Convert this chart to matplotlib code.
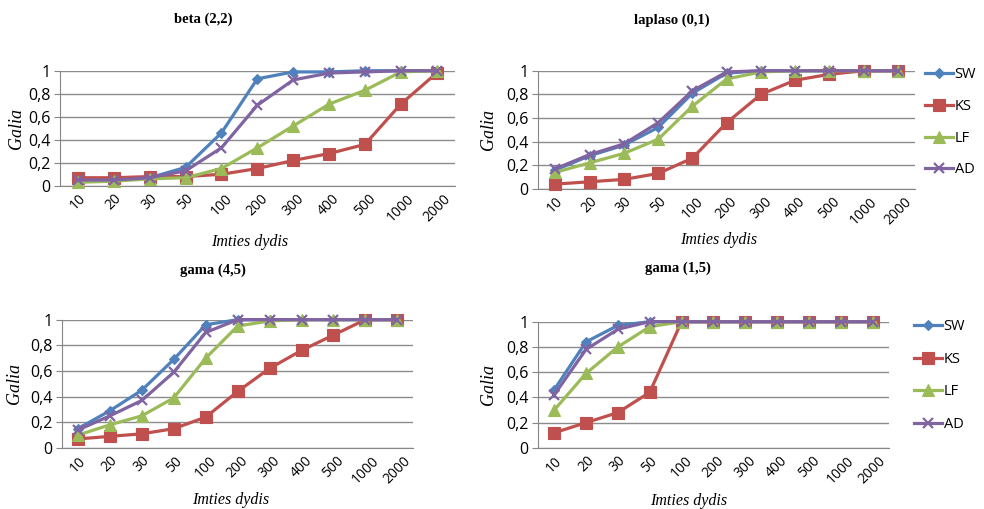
import numpy as np
import matplotlib.pyplot as plt

# Imties dydžiai (kategorinė x ašis)
imtys = ['10', '20', '30', '50', '100', '200', '300', '400', '500', '1000', '2000']

# beta (2,2)
beta_sw = [0.05, 0.05, 0.07, 0.16, 0.46, 0.93, 0.99, 0.99, 1.00, 1.00, 1.00]
beta_ks = [0.07, 0.07, 0.08, 0.08, 0.10, 0.15, 0.22, 0.28, 0.36, 0.71, 0.98]
beta_lf = [0.03, 0.04, 0.06, 0.07, 0.15, 0.33, 0.52, 0.71, 0.83, 0.99, 1.00]
beta_ad = [0.05, 0.05, 0.07, 0.13, 0.33, 0.70, 0.92, 0.98, 0.99, 1.00, 1.00]

# laplaso (0,1)
lap_sw = [0.16, 0.28, 0.37, 0.52, 0.81, 0.98, 1.00, 1.00, 1.00, 1.00, 1.00]
lap_ks = [0.04, 0.06, 0.08, 0.13, 0.26, 0.56, 0.80, 0.92, 0.97, 1.00, 1.00]
lap_lf = [0.14, 0.22, 0.30, 0.42, 0.70, 0.93, 0.99, 1.00, 1.00, 1.00, 1.00]
lap_ad = [0.17, 0.29, 0.38, 0.56, 0.83, 0.99, 1.00, 1.00, 1.00, 1.00, 1.00]

# gama (4,5)
g45_sw = [0.15, 0.29, 0.45, 0.69, 0.96, 1.00, 1.00, 1.00, 1.00, 1.00, 1.00]
g45_ks = [0.07, 0.09, 0.11, 0.15, 0.24, 0.44, 0.62, 0.76, 0.88, 1.00, 1.00]
g45_lf = [0.10, 0.18, 0.25, 0.39, 0.70, 0.95, 0.99, 1.00, 1.00, 1.00, 1.00]
g45_ad = [0.14, 0.25, 0.37, 0.59, 0.90, 1.00, 1.00, 1.00, 1.00, 1.00, 1.00]

# gama (1,5)
g15_sw = [0.46, 0.84, 0.97, 1.00, 1.00, 1.00, 1.00, 1.00, 1.00, 1.00, 1.00]
g15_ks = [0.12, 0.20, 0.28, 0.44, 1.00, 1.00, 1.00, 1.00, 1.00, 1.00, 1.00]
g15_lf = [0.30, 0.59, 0.80, 0.96, 1.00, 1.00, 1.00, 1.00, 1.00, 1.00, 1.00]
g15_ad = [0.42, 0.78, 0.94, 1.00, 1.00, 1.00, 1.00, 1.00, 1.00, 1.00, 1.00]

kriterijai = ['SW', 'KS', 'LF', 'AD']
spalvos = ['#4F81BD', '#C0504D', '#9BBB59', '#8064A2']
zymekliai = ['D', 's', '^', 'x']
dydziai = [5.5, 8.5, 8, 7]

pavadinimai = ['beta (2,2)', 'laplaso (0,1)', 'gama (4,5)', 'gama (1,5)']
duomenys = [
    [beta_sw, beta_ks, beta_lf, beta_ad],
    [lap_sw, lap_ks, lap_lf, lap_ad],
    [g45_sw, g45_ks, g45_lf, g45_ad],
    [g15_sw, g15_ks, g15_lf, g15_ad],
]

# ašių vietos figūroje [kairė, apačia, plotis, aukštis]
vietos = [
    [0.061, 0.635, 0.401, 0.226],
    [0.547, 0.629, 0.383, 0.232],
    [0.063, 0.120, 0.357, 0.252],
    [0.547, 0.120, 0.356, 0.248],
]
# pavadinimo ir x ašies užrašo vietos (figūros koordinatės)
pav_xy = [(0.207, 0.962), (0.683, 0.960), (0.216, 0.470), (0.689, 0.473)]
xlab_xy = [(0.254, 0.525), (0.730, 0.528), (0.234, 0.017), (0.700, 0.015)]
ylab_x = [0.017, 0.496, 0.015, 0.496]
# legendos inkaras (ašių koordinatės) ir tarpai tarp eilučių
leg_xy = {1: (1.012, 1.08), 3: (1.057, 1.065)}
leg_tarpas = {1: 1.15, 3: 1.2}

fig = plt.figure(figsize=(9.84, 5.09), dpi=100)
x = np.arange(len(imtys))

for k in range(4):
    ax = fig.add_axes(vietos[k])
    for serija, zenklas, spalva, zym, d in zip(duomenys[k], kriterijai, spalvos, zymekliai, dydziai):
        ax.plot(x, serija, color=spalva, lw=2.3, marker=zym, ms=d,
                mew=1.6 if zym == 'x' else 0.8, mec=spalva,
                label=zenklas, clip_on=False, zorder=3)
    ax.set_xlim(-0.5, len(imtys) - 0.5)
    ax.set_ylim(0, 1)
    ax.set_yticks([0, 0.2, 0.4, 0.6, 0.8, 1])
    ax.set_yticklabels(['0', '0,2', '0,4', '0,6', '0,8', '1'], fontsize=11.5,
                       family='Open Sans')
    ax.set_xticks(x)
    ax.set_xticklabels(imtys, rotation=45, fontsize=10, family='Open Sans',
                       ha='center', va='top')
    ax.tick_params(axis='x', length=0, pad=4)
    ax.tick_params(axis='y', length=4, color='#868686', pad=3)
    ax.grid(axis='y', color='#8c8c8c', lw=1)
    ax.set_axisbelow(True)
    for s in ['top', 'right']:
        ax.spines[s].set_visible(False)
    ax.spines['left'].set_color('#868686')
    ax.spines['bottom'].set_color('#868686')
    ax.spines['bottom'].set_zorder(2)

    fig.text(pav_xy[k][0], pav_xy[k][1], pavadinimai[k], ha='center', va='center',
             fontsize=10.5, fontweight='bold', family='Liberation Serif')
    fig.text(xlab_xy[k][0], xlab_xy[k][1], 'Imties dydis', ha='center', va='center',
             fontsize=11.5, style='italic', family='Liberation Serif')
    yc = vietos[k][1] + vietos[k][3] / 2
    fig.text(ylab_x[k], yc, 'Galia', ha='center', va='center', rotation=90,
             fontsize=13, style='italic', family='Liberation Serif')

    if k in leg_xy:
        ax.legend(loc='upper left', bbox_to_anchor=leg_xy[k], frameon=False,
                  prop={'family': 'Open Sans', 'size': 10.5},
                  handlelength=1.9, handletextpad=0.1, labelspacing=leg_tarpas[k],
                  borderaxespad=0)

fig.savefig('out.png', dpi=100)
